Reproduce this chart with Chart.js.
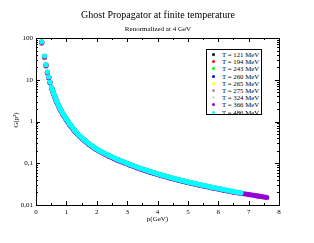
<!DOCTYPE html>
<html>
<head>
<meta charset="utf-8">
<script src="https://cdn.jsdelivr.net/npm/chart.js@4/dist/chart.umd.min.js"></script>
<style>
    body { margin: 0; background: #fff; }
    #wrap { position: relative; width: 314px; height: 243px; }
    #legend {
        position: absolute; left: 206px; top: 49px; width: 54px; height: 63px;
        border: 1px solid #000; background: #fff; padding-top: 1px;
        font-family: "Liberation Serif", serif; font-size: 6.8px; color: #000;
    }
    .row { height: 7.2px; line-height: 7.2px; position: relative; white-space: nowrap; }
    .dot { position: absolute; left: 5px; top: 2px; width: 3px; height: 3px; border-radius: 50%; }
    .lbl { position: absolute; left: 15px; top: 0; }
</style>
</head>
<body>
<div id="wrap">
    <canvas id="chart" width="314" height="243"></canvas>
    <div id="legend"></div>
</div>
<script>
// momentum grid, GeV
const momenta = [0.19, 0.28, 0.33, 0.375, 0.42, 0.46, 0.51, 0.58, 0.67, 0.77, 0.89, 1.0, 1.11, 1.27, 1.44, 1.6, 1.77, 1.94, 2.1, 2.42, 2.7, 3.08, 3.4, 3.74, 4.07, 4.4, 4.7, 5.0, 5.4, 5.8, 6.2, 6.5, 6.75, 7.0, 7.3, 7.6];

const temperatures = ['T = 121 MeV', 'T = 194 MeV', 'T = 243 MeV', 'T = 260 MeV', 'T = 265 MeV', 'T = 275 MeV', 'T = 324 MeV', 'T = 366 MeV', 'T = 486 MeV'];
const colors = ['#000000', '#ff0000', '#00ff00', '#0000ff', '#ffff00', 'rgb(188,143,143)', 'rgb(220,220,220)', 'rgb(148,0,211)', '#00ffff'];

// G(p^2) for each temperature, one value per momentum (shorter lists stop earlier)
const g121 = [80, 36, 22.5, 15, 11.4, 8.6, 6.5, 4.7, 3.12, 2.16, 1.49, 1.12, 0.855, 0.6, 0.445, 0.35, 0.281, 0.229, 0.195, 0.15, 0.12, 0.093, 0.0763, 0.063, 0.0532, 0.0456];
const g194 = [79, 36.5, 22.8, 15.1, 11.5, 8.7, 6.55, 4.72, 3.14, 2.17, 1.5, 1.12, 0.86, 0.605, 0.447, 0.352, 0.282, 0.23, 0.196, 0.15, 0.12, 0.0935, 0.0766, 0.0633, 0.0534, 0.0458, 0.04, 0.0354];
const g243 = [80, 36, 22.6, 15.2, 11.5, 8.7, 6.55, 4.73, 3.14, 2.18, 1.5, 1.12, 0.86, 0.606, 0.447, 0.353, 0.282, 0.23, 0.196, 0.15, 0.12, 0.0936, 0.0767, 0.0634, 0.0535, 0.0459, 0.0401, 0.0355, 0.0304, 0.0264];
const g260 = [78, 35.5, 22.2, 14.9, 11.3, 8.55, 6.45, 4.65, 3.1, 2.15, 1.48, 1.1, 0.85, 0.6, 0.442, 0.349, 0.279, 0.227, 0.193, 0.148, 0.119, 0.0925, 0.0758, 0.0626, 0.0529, 0.0453, 0.0397, 0.0351, 0.0301, 0.0262, 0.0228];
const g265 = [77, 35, 22, 14.8, 11.2, 8.5, 6.42, 4.63, 3.08, 2.14, 1.47, 1.1, 0.848, 0.598, 0.44, 0.348, 0.278, 0.226, 0.193, 0.148, 0.118, 0.0922, 0.0755, 0.0624, 0.0527, 0.0451, 0.0395, 0.035, 0.03, 0.0261, 0.0227, 0.0206];
const g275 = [74, 33.5, 21.2, 14.3, 10.9, 8.3, 6.3, 4.55, 3.04, 2.11, 1.46, 1.09, 0.84, 0.594, 0.438, 0.346, 0.277, 0.226, 0.192, 0.147, 0.118, 0.092, 0.0753, 0.0622, 0.0526, 0.045, 0.0394, 0.0349, 0.0299, 0.026, 0.0226, 0.0205, 0.019];
const g324 = [79, 36, 22.5, 15, 11.4, 8.6, 6.5, 4.7, 3.12, 2.16, 1.49, 1.11, 0.855, 0.603, 0.445, 0.351, 0.281, 0.229, 0.195, 0.149, 0.12, 0.093, 0.0762, 0.063, 0.0531, 0.0455, 0.0399, 0.0353, 0.0302, 0.0262, 0.0229, 0.0208, 0.0192];
const g366 = [78, 35, 22, 14.8, 11.2, 8.5, 6.4, 4.6, 3.06, 2.12, 1.46, 1.09, 0.84, 0.59, 0.437, 0.344, 0.275, 0.224, 0.191, 0.146, 0.117, 0.091, 0.0746, 0.0617, 0.0521, 0.0446, 0.0391, 0.0345, 0.0296, 0.0257, 0.0224, 0.0204, 0.019, 0.0179, 0.0165, 0.0152];
const g486 = [81, 37, 23, 15.3, 11.6, 8.75, 6.6, 4.76, 3.16, 2.19, 1.51, 1.13, 0.865, 0.61, 0.45, 0.355, 0.284, 0.231, 0.197, 0.151, 0.121, 0.094, 0.077, 0.0636, 0.0537, 0.046, 0.0403, 0.0356, 0.0305, 0.0265, 0.0231, 0.021, 0.0194];
const series = [g121, g194, g243, g260, g265, g275, g324, g366, g486];

const xTicks = [0, 1, 2, 3, 4, 5, 6, 7, 8];
const yTickValues = [0.01, 0.1, 1, 10, 100];
const yTickLabels = ['0,01', '0,1', '1', '10', '100'];

const SERIF = '"Liberation Serif", "Times New Roman", serif';

const datasets = series.map((vals, i) => ({
    label: temperatures[i],
    data: vals.map((g, k) => ({ x: momenta[k], y: g })),
    showLine: true,
    borderColor: colors[i],
    backgroundColor: colors[i],
    borderWidth: 5,
    pointRadius: 2.5,
    pointBorderWidth: 0,
    order: series.length - 1 - i,
    segment: {
        borderColor: ctx => ctx.p0.parsed.x < 0.5 ? 'rgba(0,0,0,0)' : colors[i]
    }
}));

// frame with inward ticks on all four sides, titles
const framePlugin = {
    id: 'frame',
    afterDraw(chart) {
        const { ctx, chartArea: a, scales: { x, y } } = chart;
        ctx.save();
        ctx.strokeStyle = '#000';
        ctx.lineWidth = 1;
        ctx.strokeRect(a.left + 0.5, a.top + 0.5, a.right - a.left, a.bottom - a.top);
        ctx.beginPath();
        for (let v = 0; v <= 8.001; v += 0.5) {
            const px = Math.round(x.getPixelForValue(v)) + 0.5;
            const len = Number.isInteger(v) ? 4 : 2;
            ctx.moveTo(px, a.bottom); ctx.lineTo(px, a.bottom - len);
            ctx.moveTo(px, a.top); ctx.lineTo(px, a.top + len);
        }
        for (let d = -2; d < 2; d++) {
            for (let m = 1; m < 10; m++) {
                const py = Math.round(y.getPixelForValue(m * Math.pow(10, d))) + 0.5;
                const len = m === 1 ? 4 : 2;
                ctx.moveTo(a.left, py); ctx.lineTo(a.left + len, py);
                ctx.moveTo(a.right, py); ctx.lineTo(a.right - len, py);
            }
        }
        const pTop = Math.round(y.getPixelForValue(100)) + 0.5;
        ctx.moveTo(a.left, pTop); ctx.lineTo(a.left + 4, pTop);
        ctx.moveTo(a.right, pTop); ctx.lineTo(a.right - 4, pTop);
        ctx.stroke();

        ctx.fillStyle = '#000';
        ctx.textAlign = 'center';
        ctx.textBaseline = 'middle';
        ctx.font = '10px ' + SERIF;
        ctx.fillText('Ghost Propagator at finite temperature', 158, 15);
        ctx.font = '7px ' + SERIF;
        ctx.fillText('Renormalized at 4 GeV', 158, 29);
        ctx.fillText('p(GeV)', (a.left + a.right) / 2, 219);
        ctx.translate(16, 120);
        ctx.rotate(-Math.PI / 2);
        ctx.fillText('G(p\u00b2)', 0, 0);
        ctx.restore();
    }
};

new Chart(document.getElementById('chart').getContext('2d'), {
    type: 'scatter',
    data: { datasets },
    options: {
        responsive: false,
        animation: false,
        devicePixelRatio: 1,
        layout: { padding: { top: 38, right: 35, left: 0, bottom: 0 } },
        plugins: {
            legend: { display: false },
            tooltip: { enabled: false }
        },
        scales: {
            x: {
                type: 'linear',
                min: 0,
                max: 8,
                grid: { display: false, drawTicks: false },
                border: { display: false },
                afterBuildTicks: s => { s.ticks = xTicks.map(v => ({ value: v })); },
                afterFit: s => { s.height = 38; },
                ticks: { padding: 3, color: '#000', font: { family: SERIF, size: 7 }, maxRotation: 0 }
            },
            y: {
                type: 'logarithmic',
                min: 0.01,
                max: 100,
                grid: { display: false, drawTicks: false },
                border: { display: false },
                afterBuildTicks: s => { s.ticks = yTickValues.map(v => ({ value: v, major: true })); },
                afterFit: s => { s.width = 36; },
                ticks: {
                    padding: 3,
                    color: '#000',
                    font: { family: SERIF, size: 7 },
                    callback: (v, i) => yTickLabels[i]
                }
            }
        }
    },
    plugins: [framePlugin]
});

const legend = document.getElementById('legend');
legend.innerHTML = temperatures.map((t, i) => `
    <div class="row"><span class="dot" style="background:${colors[i]}"></span><span class="lbl">${t}</span></div>
`).join('');
</script>
</body>
</html>
